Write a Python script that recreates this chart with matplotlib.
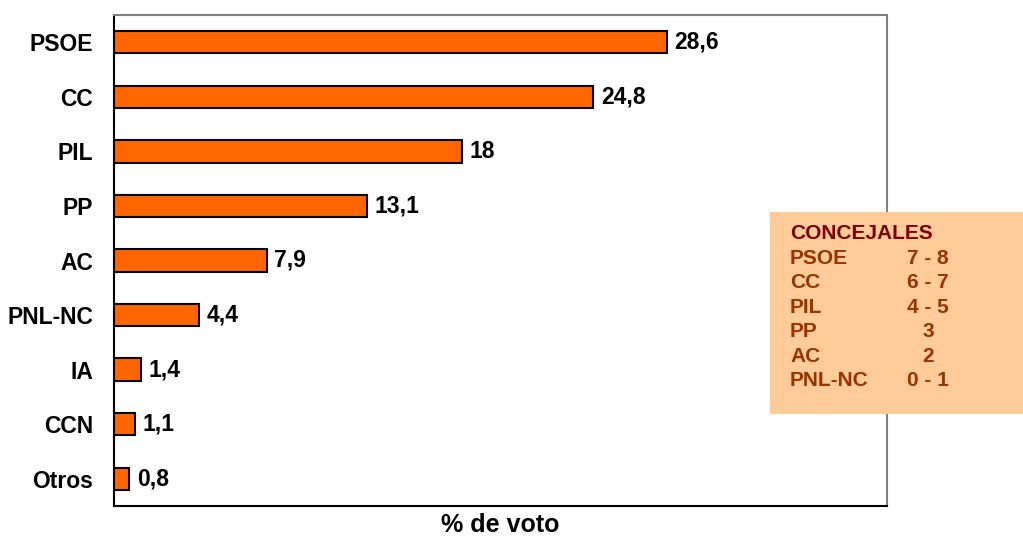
import matplotlib
matplotlib.use("Agg")
import matplotlib.pyplot as plt
from matplotlib.patches import Rectangle

partidos = ["PSOE", "CC", "PIL", "PP", "AC", "PNL-NC", "IA", "CCN", "Otros"]
voto = [28.6, 24.8, 18, 13.1, 7.9, 4.4, 1.4, 1.1, 0.8]
etiquetas = ["28,6", "24,8", "18", "13,1", "7,9", "4,4", "1,4", "1,1", "0,8"]

conc_partidos = ["PSOE", "CC", "PIL", "PP", "AC", "PNL-NC"]
conc_valores = ["7 - 8", "6 - 7", "4 - 5", "3", "2", "0 - 1"]

fuente = ["Liberation Sans", "DejaVu Sans"]

fig = plt.figure(figsize=(10.23, 5.38), dpi=100)
ax = fig.add_axes([114/1023, 32/538, 773/1023, 491/538])

ypos = list(range(len(partidos)))
ax.barh(ypos, voto, height=0.41, color="#FF6600", edgecolor="black", linewidth=1.5)
for y, v, t in zip(ypos, voto, etiquetas):
    ax.text(v + 0.4, y, t, va="center", ha="left", fontsize=16.5,
            fontweight="bold", family=fuente)

ax.set_xlim(0, 40)
ax.set_ylim(8.5, -0.5)
ax.set_yticks(ypos)
ax.set_yticklabels(partidos, fontsize=16.5, fontweight="bold", family=fuente)
ax.tick_params(axis="y", length=0, pad=15)
ax.set_xticks([])
ax.set_xlabel("% de voto", fontsize=18, fontweight="bold", family=fuente, labelpad=5)

for s in ["left", "bottom"]:
    ax.spines[s].set_color("black")
    ax.spines[s].set_linewidth(1.5)
for s in ["top", "right"]:
    ax.spines[s].set_color("#808080")
    ax.spines[s].set_linewidth(1.5)

# cuadro de concejales
fig.patches.append(Rectangle((770/1023, 1 - 414/538), 253/1023, 202/538,
                             transform=fig.transFigure, facecolor="#FFCC99",
                             edgecolor="none", zorder=5))
fig.text(790/1023, 1 - 239/538, "CONCEJALES", color="#800000", fontsize=15,
         fontweight="bold", family=fuente, va="baseline", zorder=6)
for i, (p, c) in enumerate(zip(conc_partidos, conc_valores)):
    yb = 1 - (264 + i * 24.4) / 538
    fig.text(790/1023, yb, p, color="#993300", fontsize=15,
             fontweight="bold", family=fuente, va="baseline", zorder=6)
    fig.text(928/1023, yb, c, color="#993300", fontsize=15,
             fontweight="bold", family=fuente, va="baseline", ha="center", zorder=6)

fig.savefig("out.png", dpi=100)
